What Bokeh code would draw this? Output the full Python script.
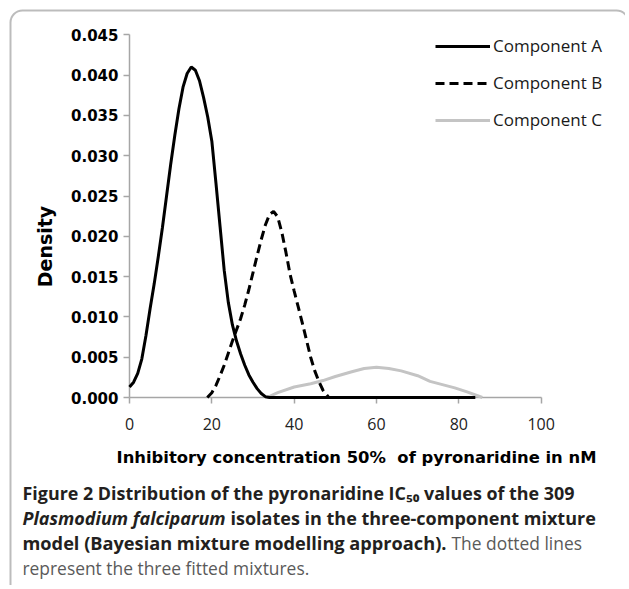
from bokeh.plotting import figure
from bokeh.models import (Range1d, FixedTicker, NumeralTickFormatter, Label,
                          Legend, LegendItem, BoxAnnotation, LinearAxis)
from bokeh.embed import file_html
from bokeh.resources import INLINE

# ---- data ----
comp_a_x = [0, 1, 2, 3, 4, 5, 6, 7, 8, 9, 10, 11, 12, 13, 14, 15, 16, 17, 18, 19,
            20, 21, 22, 23, 24, 25, 26, 27, 28, 29, 30, 31, 32, 33, 34, 40, 50, 60,
            70, 80, 84]
comp_a_y = [0.0013, 0.0019, 0.0030, 0.0048, 0.0077, 0.0110, 0.0141, 0.0175, 0.0211,
            0.0250, 0.0289, 0.0325, 0.0358, 0.0385, 0.0402, 0.0410, 0.0406, 0.0393,
            0.0372, 0.0348, 0.0318, 0.0266, 0.0212, 0.0158, 0.0118, 0.0090, 0.0070,
            0.0054, 0.0040, 0.0028, 0.0019, 0.0011, 0.0005, 0.0001, 0.0, 0.0, 0.0,
            0.0, 0.0, 0.0, 0.0]

comp_b_x = [18.9, 20, 21, 22, 23, 24, 25, 26, 27, 28, 29, 30, 31, 32, 33, 34, 35, 36,
            37, 38, 39, 40, 41, 42, 43, 44, 45, 46, 47, 48.4]
comp_b_y = [0.0, 0.0006, 0.0015, 0.0027, 0.0040, 0.0055, 0.0070, 0.0084, 0.0098,
            0.0115, 0.0134, 0.0155, 0.0176, 0.0196, 0.0214, 0.0227, 0.0231, 0.0224,
            0.0205, 0.0180, 0.0153, 0.0132, 0.0112, 0.0092, 0.0071, 0.0050, 0.0033,
            0.0020, 0.0009, 0.0]

comp_c_x = [33.4, 36, 40, 44, 47, 50, 54, 57, 60, 63, 66, 70, 73, 76, 79, 82, 85.7]
comp_c_y = [0.0, 0.0006, 0.0013, 0.0017, 0.0021, 0.0026, 0.0032, 0.0036, 0.00375,
            0.0036, 0.0033, 0.0027, 0.0020, 0.0016, 0.0012, 0.0007, 0.0]

x_ticks = [0, 20, 40, 60, 80, 100]
y_ticks = [0.0, 0.005, 0.010, 0.015, 0.020, 0.025, 0.030, 0.035, 0.040, 0.045]
series_names = ["Component A", "Component B", "Component C"]
x_title = "Inhibitory concentration 50%\u00a0 of pyronaridine in nM"
y_title = "Density"
caption_l1 = "Figure 2 Distribution of the pyronaridine IC\u2085\u2080 values of the 309"
caption_l2a = "Plasmodium falciparum"
caption_l2b = "isolates in the three-component mixture"
caption_l3a = "model (Bayesian mixture modelling approach)."
caption_l3b = "The dotted lines"
caption_l4 = "represent the three fitted mixtures."

# ---- layout: the frame fills the whole canvas, axes sit at fixed locations ----
W, H = 625, 585
X0_PX, X100_PX = 129.0, 540.7      # where x=0 and x=100 fall on the canvas
Y0_PX, Y045_PX = 397.0, 34.3       # where y=0 and y=0.045 fall
xs = (X100_PX - X0_PX) / 100.0
ys = (Y0_PX - Y045_PX) / 0.045
x_rng = Range1d(-X0_PX / xs, (W - X0_PX) / xs)
y_rng = Range1d(-(H - Y0_PX) / ys, Y0_PX / ys)

p = figure(width=W, height=H, output_backend="svg", toolbar_location=None,
           x_range=x_rng, y_range=y_rng, x_axis_location=None,
           y_axis_location=None, min_border=0)
p.grid.visible = False
p.outline_line_color = None
p.background_fill_color = "white"
p.border_fill_color = "white"

axis_gray = "#a6a6a6"
xaxis = LinearAxis(fixed_location=0, bounds=(0, 100),
                   ticker=FixedTicker(ticks=x_ticks))
yaxis = LinearAxis(fixed_location=0, bounds=(0, 0.045),
                   ticker=FixedTicker(ticks=y_ticks),
                   formatter=NumeralTickFormatter(format="0.000"))
for ax in (xaxis, yaxis):
    ax.axis_line_color = axis_gray
    ax.axis_line_width = 1.5
    ax.major_tick_line_color = axis_gray
    ax.major_tick_line_width = 1.5
    ax.major_tick_in = 0
    ax.major_tick_out = 6
    ax.minor_tick_line_color = None

xaxis.major_label_text_font = "Open Sans"
xaxis.major_label_text_font_size = "16px"
xaxis.major_label_text_color = "#222222"
xaxis.major_label_standoff = 14

yaxis.major_label_text_font = "DejaVu Sans"
yaxis.major_label_text_font_style = "bold"
yaxis.major_label_text_font_size = "15px"
yaxis.major_label_text_color = "black"
yaxis.major_label_standoff = 5

p.add_layout(xaxis, "below")
p.add_layout(yaxis, "left")

r_c = p.line(comp_c_x, comp_c_y, line_color="#c4c4c4", line_width=3, level="overlay")
r_b = p.line(comp_b_x, comp_b_y, line_color="black", line_width=3,
             line_dash="9 5", level="overlay")
r_a = p.line(comp_a_x, comp_a_y, line_color="black", line_width=3, level="overlay")

legend = Legend(items=[LegendItem(label=series_names[0], renderers=[r_a]),
                       LegendItem(label=series_names[1], renderers=[r_b]),
                       LegendItem(label=series_names[2], renderers=[r_c])],
                location=(435, H - 131), glyph_width=55, glyph_height=20,
                label_height=20, spacing=14, padding=0, margin=0,
                border_line_color=None, background_fill_alpha=0,
                label_standoff=3, label_text_font="Open Sans",
                label_text_font_size="17px", label_text_color="#1a1a1a")
p.add_layout(legend)


def page_label(text, px, py, **kw):
    # px, py: canvas pixels from the top-left corner
    return Label(x=px, y=H - py, x_units="screen", y_units="screen",
                 text=text, **kw)


p.add_layout(page_label(y_title, 44, 246, angle=90, angle_units="deg",
                        text_align="center", text_baseline="middle",
                        text_font="DejaVu Sans", text_font_style="bold",
                        text_font_size="19px", text_color="black"))
p.add_layout(page_label(x_title, 356, 457, text_align="center",
                        text_baseline="middle", text_font="DejaVu Sans",
                        text_font_style="bold", text_font_size="16.4px",
                        text_color="black"))

bold_kw = dict(text_baseline="middle", text_font="Open Sans",
               text_font_size="18.2px", text_color="#231f20")
l1_kw = dict(text_baseline="middle", text_font="Open Sans",
             text_font_size="17.9px", text_color="#231f20")
l2_kw = dict(text_baseline="middle", text_font="Open Sans",
             text_font_size="18px", text_color="#231f20")
light_kw = dict(text_baseline="middle", text_font="Open Sans",
                text_font_size="17.4px", text_color="#5a5a5a",
                text_font_style="normal")

p.add_layout(page_label(caption_l1, 22, 492, text_font_style="bold", **l1_kw))
p.add_layout(page_label(caption_l2a, 22, 517, text_font_style="bold italic", **l2_kw))
p.add_layout(page_label(caption_l2b, 230, 517, text_font_style="bold", **l2_kw))
p.add_layout(page_label(caption_l3a, 22, 542, text_font_style="bold", **bold_kw))
p.add_layout(page_label(caption_l3b, 451, 542, **light_kw))
p.add_layout(page_label(caption_l4, 22, 567, **light_kw))

frame_box = BoxAnnotation(left=10, right=W + 3, top=H - 10, bottom=-200,
                          left_units="screen", right_units="screen",
                          top_units="screen", bottom_units="screen",
                          fill_alpha=0, line_color="#222222", line_width=2,
                          border_radius=12)
p.add_layout(frame_box)

open("out.html", "w").write(file_html(p, INLINE))
